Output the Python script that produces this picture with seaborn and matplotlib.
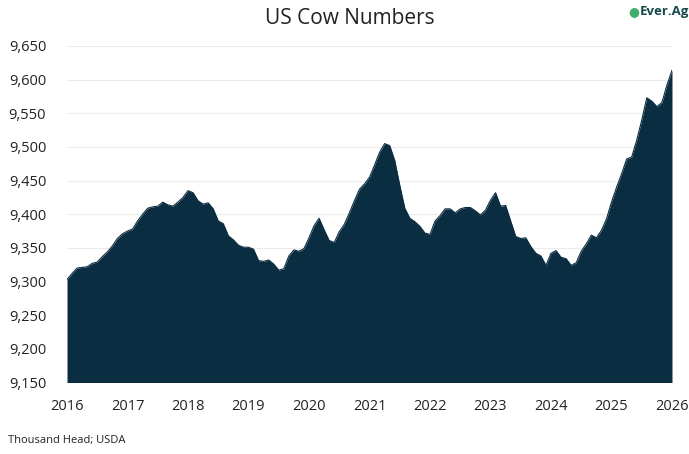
import matplotlib
matplotlib.use("Agg")
import matplotlib.pyplot as plt
import seaborn as sns
import pandas as pd
import numpy as np

# Monthly US milk cow inventory, thousand head, Jan 2016 - Jan 2026
cows = [
    9303, 9312, 9320, 9321, 9322, 9327, 9329, 9337, 9344, 9353, 9364, 9371,   # 2016
    9375, 9378, 9390, 9400, 9409, 9411, 9412, 9418, 9414, 9412, 9418, 9425,   # 2017
    9435, 9432, 9420, 9415, 9417, 9408, 9390, 9386, 9368, 9362, 9354, 9351,   # 2018
    9351, 9348, 9331, 9330, 9332, 9326, 9317, 9319, 9338, 9347, 9345, 9349,   # 2019
    9365, 9383, 9394, 9377, 9361, 9358, 9374, 9385, 9402, 9420, 9437, 9445,   # 2020
    9455, 9473, 9492, 9505, 9502, 9480, 9443, 9409, 9394, 9389, 9382, 9372,   # 2021
    9370, 9390, 9398, 9408, 9408, 9402, 9408, 9410, 9410, 9405, 9399, 9406,   # 2022
    9421, 9432, 9412, 9413, 9390, 9367, 9364, 9365, 9352, 9342, 9338, 9324,   # 2023
    9342, 9346, 9336, 9334, 9324, 9328, 9345, 9356, 9369, 9365, 9376, 9393,   # 2024
    9418, 9440, 9460, 9482, 9485, 9510, 9540, 9573, 9568, 9560, 9566, 9592,   # 2025
    9614,                                                                     # 2026
]
years = [2016, 2017, 2018, 2019, 2020, 2021, 2022, 2023, 2024, 2025, 2026]
y_ticks = [9150, 9200, 9250, 9300, 9350, 9400, 9450, 9500, 9550, 9600, 9650]

df = pd.DataFrame({"month": np.arange(len(cows)), "cows": cows})

navy = "#0b2d42"
sns.set_theme(style="white")
plt.rcParams["font.family"] = ["Open Sans", "DejaVu Sans"]

fig = plt.figure(figsize=(6.89, 4.54), dpi=100)
ax = fig.add_axes([67 / 689, 1 - 382.5 / 454, (672 - 67) / 689, (382.5 - 46) / 454])

ax.fill_between(df["month"], df["cows"], 9150, color=navy, linewidth=0, zorder=2)
sns.lineplot(data=df, x="month", y="cows", ax=ax, color=navy, linewidth=0.8, zorder=3)

ax.set_xlim(0, len(cows) - 1)
ax.set_ylim(9150, 9650)
ax.set_xticks([12 * i for i in range(len(years))])
ax.set_xticklabels([str(y) for y in years])
ax.set_yticks(y_ticks)
ax.set_yticklabels([f"{v:,}" for v in y_ticks])
ax.set_xlabel("")
ax.set_ylabel("")

ax.grid(axis="y", color="#ececec", linewidth=0.8, zorder=0)
ax.grid(axis="x", visible=False)
for s in ax.spines.values():
    s.set_visible(False)

ax.tick_params(axis="y", length=0, pad=15, labelsize=10.5, colors="#222222")
ax.tick_params(axis="x", length=0, pad=12, labelsize=10.5, colors="#222222")

fig.text(350 / 689, 1 - 19 / 454, "US Cow Numbers", ha="center", va="center",
         fontsize=15, color="#222222")
fig.text(8 / 689, 1 - 440 / 454, "Thousand Head; USDA", ha="left", va="center",
         fontsize=8, color="#222222")

# brand mark in the top right corner
fig.text(634 / 689, 1 - 12 / 454, "\u25cf", ha="center", va="center",
         fontsize=9, color="#3fae6a")
fig.text(640 / 689, 1 - 12 / 454, "Ever.Ag", ha="left", va="center",
         fontsize=9.5, fontweight="bold", color="#17494a")

fig.savefig("out.png", dpi=100)
